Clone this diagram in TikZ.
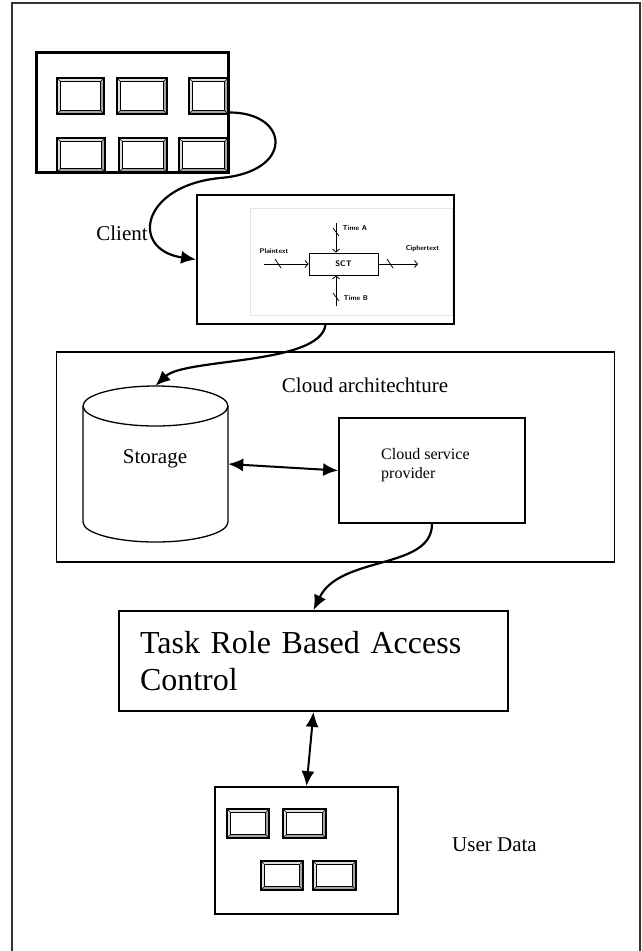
\documentclass[tikz,border=0pt]{standalone}
\usepackage{fontspec}
\setmainfont{Liberation Serif}
\usepackage{tikz}
\usetikzlibrary{arrows.meta}

% one key of a keypad, corners (x1,y1) and (x2,y2)
\newcommand{\keycap}[4]{%
	\path[fill=gray!70] (#1,#2) rectangle (#3,#4);
	\path[fill=gray!25] (#1,#2) -- (#3,#2) -- ({#3-3.5},{#2+3.5}) -- ({#1+3.5},{#2+3.5}) -- ({#1+3.5},{#4-3.5}) -- (#1,#4) -- cycle;
	\draw[line width=1.3] (#1,#2) rectangle (#3,#4);
	\path[fill=white,draw=black,line width=0.8] ({#1+3.5},{#2+3.5}) rectangle ({#3-3.5},{#4-3.5});
	\draw[line width=0.4] (#1,#2) -- ++(3.5,3.5) (#3,#2) -- ++(-3.5,3.5) (#1,#4) -- ++(3.5,-3.5) (#3,#4) -- ++(-3.5,-3.5);
}

\tikzset{
	box/.style={draw,line width=1.8,inner sep=0},
	link/.style={line width=2.2,-{Latex[length=15pt,width=13pt]}},
	both/.style={line width=2,{Latex[length=15pt,width=13pt]}-{Latex[length=15pt,width=13pt]}},
	barb/.style={line width=0.8,-{Straight Barb[length=3pt,width=7pt]}},
	tiny/.style={font=\sffamily\bfseries\fontsize{7}{8}\selectfont,inner sep=0.5pt},
	big/.style={font=\fontsize{21}{25}\selectfont}
}

\begin{document}
\begin{tikzpicture}[x=1pt,y=-1pt]
		\useasboundingbox (0,0) rectangle (642,951);
		\draw[line width=1.4,black!80] (12,951) -- (12,3) -- (640,3) -- (640,951);

		% client keypad
		\node[box,minimum width=191pt,minimum height=119pt] (client) at (132.5,112.5) {};
		\keycap{57}{78}{104}{114}
		\keycap{117}{78}{167}{114}
		\keycap{189}{78}{228}{114}
		\keycap{57}{138}{105}{172}
		\keycap{119}{138}{167}{172}
		\keycap{179}{138}{228}{172}
		\draw[line width=1.8] (client.north west) rectangle (client.south east);
		\node[big] (clientlabel) at (122,233) {Client};

		% SCT block
		\node[box,minimum width=257pt,minimum height=129pt] (sct) at (325.5,259.5) {};
		\draw[gray!20,line width=0.6] (250,208) rectangle (452,315);
		\node[draw,line width=0.9,minimum width=69pt,minimum height=22pt,tiny,font=\sffamily\bfseries\fontsize{8}{9}\selectfont] (scti) at (343.5,264) {SCT};
		\coordinate (pin) at (264,264);
		\coordinate (cout) at (418,264);
		\coordinate (ta) at (336,223);
		\coordinate (tb) at (336,306);
		\draw[barb] (pin) -- (scti.west);
		\draw[barb] (scti.east) -- (cout);
		\draw[barb] (ta) -- (ta |- scti.north);
		\draw[barb] (tb) -- (tb |- scti.south);
		\draw[line width=0.7] (275,259) -- (281,268);
		\draw[line width=0.7] (387,259) -- (393,268);
		\draw[line width=0.7] (333,228) -- (339,236);
		\draw[line width=0.7] (333,293) -- (339,301);
		\node[tiny] (plain) at (274,251) {Plaintext};
		\node[tiny] (cipher) at (422.5,249) {Ciphertext};
		\node[tiny,anchor=west] (timea) at (342,228) {Time A};
		\node[tiny,anchor=west] (timeb) at (343,298) {Time B};

		% cloud
		\node[box,minimum width=558pt,minimum height=210pt] (cloud) at (335.5,457) {};
		\node[big] (cloudlabel) at (365,385) {Cloud architechture};
		\node[inner sep=0,minimum width=145pt,minimum height=156pt,big] (storage) at (155.5,464) {};
		\draw[line width=1.3] (155.5,406) ellipse [x radius=72.5,y radius=20];
		\draw[line width=1.3] (83,406) -- (83,522) arc[start angle=180,end angle=0,x radius=72.5,y radius=20] -- (228,406);
		\node[big] (storagelabel) at (155,459) {Storage};
		\node[box,minimum width=186pt,minimum height=105pt] (csp) at (432,470.5) {};
		\node[anchor=west,align=left,inner sep=0,font=\fontsize{16}{19}\selectfont] (csplabel) at (381,465) {Cloud service\\provider};

		\node[box,minimum width=389pt,minimum height=100pt,text width=347pt,align=left,inner xsep=21pt,font=\fontsize{32}{37}\selectfont] (trbac) at (313.5,661) {Task Role Based Access\\Control};

		% user data
		\node[box,minimum width=183pt,minimum height=127pt] (user) at (306.5,850.5) {};
		\keycap{227}{809}{269}{838}
		\keycap{283}{809}{326}{838}
		\keycap{261}{861}{303}{890}
		\keycap{313}{861}{356}{890}
		\node[big] (userlabel) at (494.5,845) {User Data};

		\draw[link] (client.east) .. controls (290,112) and (295,172) .. (220,178) .. controls (140,186) and (130,250) .. (sct.west);
		\draw[link] (sct.south) .. controls (320,365) and (185,358) .. (storage.north);
		\draw[both] (storage.east) -- (csp.west);
		\draw[link] (csp.south) .. controls (432,570) and (340,555) .. (trbac.north);
		\draw[both] (trbac.south) -- (user.north);
	\end{tikzpicture}
\end{document}
